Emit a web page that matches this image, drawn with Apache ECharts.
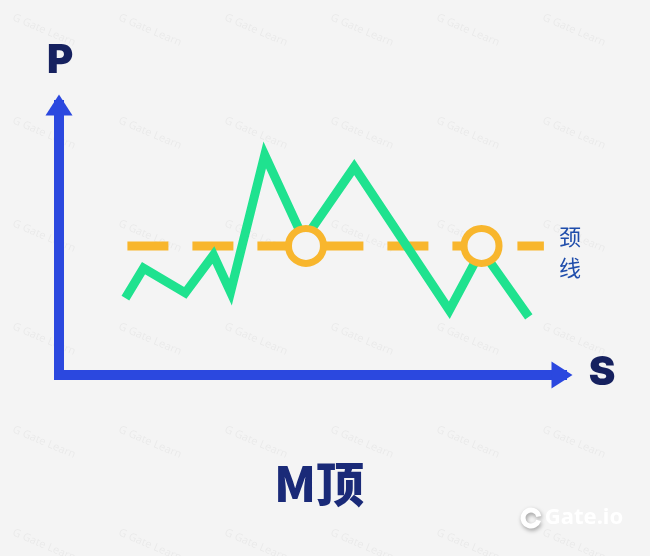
<!DOCTYPE html>
<html>
<head>
<meta charset="utf-8">
<title>M顶</title>
<script src="https://cdn.jsdelivr.net/npm/echarts@6/dist/echarts.min.js"></script>
<style>
  html, body { margin: 0; padding: 0; background: #f4f4f4; }
  #chart { width: 650px; height: 556px; }
</style>
</head>
<body>
<div id="chart"></div>
<script>
// 价格走势（横轴 0-100，纵轴 0-100）
var priceX = [13.2, 16.8, 25.1, 30.7, 34.1, 40.9, 48.7, 58.7, 77.6, 84.0, 93.4];
var priceY = [28.5, 39.6, 30.4, 44.4, 30.7, 81.5, 50.0, 77.0, 24.0, 46.3, 21.5];
// 颈线
var neckX = [13.6, 96.4];
var neckY = 47.8;
// 价格触及颈线的两点
var touchX = [49.1, 84.0];

var axisBlue = '#2b48df';
var green = '#1fe28f';
var orange = '#f8b62d';
var navy = '#16215f';

var pricePoints = priceX.map(function (x, i) { return [x, priceY[i]]; });
var neckPoints = neckX.map(function (x) { return [x, neckY]; });
var touchPoints = touchX.map(function (x) { return [x, neckY]; });

// 水印
var marks = [];
for (var r = 0; r < 6; r++) {
  for (var c = 0; c < 6; c++) {
    marks.push({
      type: 'text',
      x: 15 + c * 106,
      y: 12 + r * 103,
      rotation: -0.4,
      silent: true,
      style: {
        text: 'G Gate Learn',
        fill: 'rgba(0,0,0,0.045)',
        font: '11px "Noto Sans"'
      }
    });
  }
}

var myChart = echarts.init(document.getElementById('chart'));
var option = {
  backgroundColor: '#f4f4f4',
  animation: false,
  grid: {
    left: 59,
    right: 88,
    top: 105,
    bottom: 181
  },
  xAxis: {
    type: 'value',
    min: 0,
    max: 100,
    axisLine: {
      show: true,
      symbol: ['none', 'triangle'],
      symbolSize: [27, 21],
      lineStyle: { color: axisBlue, width: 10, cap: 'square' }
    },
    axisTick: { show: false },
    axisLabel: { show: false },
    splitLine: { show: false }
  },
  yAxis: {
    type: 'value',
    min: 0,
    max: 100,
    axisLine: {
      show: true,
      symbol: ['none', 'triangle'],
      symbolSize: [27, 21],
      lineStyle: { color: axisBlue, width: 10, cap: 'square' }
    },
    axisTick: { show: false },
    axisLabel: { show: false },
    splitLine: { show: false }
  },
  graphic: marks.concat([
    {
      type: 'text', x: 60, y: 61,
      style: { text: 'P', fill: navy, font: '900 40px Inter', align: 'center', verticalAlign: 'middle' }
    },
    {
      type: 'text', x: 602, y: 373,
      style: { text: 'S', fill: navy, font: '900 40px Inter', align: 'center', verticalAlign: 'middle' }
    },
    {
      type: 'text', x: 570, y: 237,
      style: { text: '颈', fill: '#1f4dab', font: '22px "Noto Sans CJK SC"', align: 'center', verticalAlign: 'middle' }
    },
    {
      type: 'text', x: 570, y: 268,
      style: { text: '线', fill: '#1f4dab', font: '22px "Noto Sans CJK SC"', align: 'center', verticalAlign: 'middle' }
    },
    {
      type: 'text', x: 319, y: 484,
      style: { text: 'M顶', fill: '#1a2a78', font: '900 48px "Noto Sans CJK SC"', align: 'center', verticalAlign: 'middle' }
    },
    {
      type: 'arc', x: 531, y: 518,
      shape: { r: 8, startAngle: 0.3, endAngle: Math.PI * 2 - 0.2 },
      style: { stroke: '#ffffff', lineWidth: 5, fill: null, shadowBlur: 4, shadowColor: 'rgba(0,0,0,0.35)', shadowOffsetX: 1, shadowOffsetY: 2 }
    },
    {
      type: 'text', x: 584, y: 518,
      style: {
        text: 'Gate.io', fill: '#ffffff', font: 'bold 22px "Noto Sans"',
        align: 'center', verticalAlign: 'middle',
        shadowBlur: 4, shadowColor: 'rgba(0,0,0,0.35)', shadowOffsetX: 1, shadowOffsetY: 2
      }
    }
  ]),
  series: [
    {
      name: '颈线',
      type: 'line',
      data: neckPoints,
      showSymbol: false,
      z: 2,
      lineStyle: { color: orange, width: 9, type: [41, 24], cap: 'butt' }
    },
    {
      name: '价格',
      type: 'line',
      data: pricePoints,
      showSymbol: false,
      z: 3,
      lineStyle: { color: green, width: 9, join: 'miter' }
    },
    {
      name: '触点',
      type: 'scatter',
      data: touchPoints,
      symbol: 'circle',
      symbolSize: 35,
      z: 4,
      itemStyle: { color: '#f4f4f4', borderColor: orange, borderWidth: 7, opacity: 1 }
    }
  ]
};
myChart.setOption(option);
</script>
</body>
</html>
